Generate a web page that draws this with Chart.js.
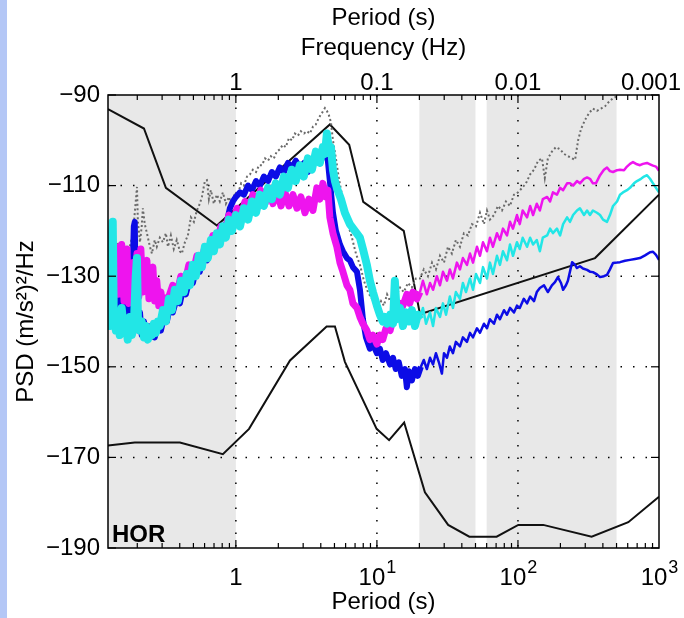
<!DOCTYPE html>
<html>
<head>
<meta charset="utf-8">
<script src="https://cdn.jsdelivr.net/npm/chart.js@4.4.1/dist/chart.umd.min.js"></script>
<style>
  html, body { margin: 0; padding: 0; background: #fff; }
  #wrap { position: relative; width: 684px; height: 618px; }
  #stripe { position: absolute; left: 0; top: 0; width: 7px; height: 618px; background: #b4c7f6; }
  canvas { position: absolute; left: 0; top: 0; }
</style>
</head>
<body>
<div id="wrap"><canvas id="psdChart" width="684" height="618"></canvas><div id="stripe"></div></div>
<script>
// Axis ticks and shaded period bands
const periodTicks = [1, 10, 100, 1000];
const frequencyLabels = ["1", "0.1", "0.01", "0.001"];
const gridPeriods = [1, 10, 100];
const gridLevels = [-110, -130, -150, -170];
const shadedBands = [[0.124, 1], [20, 50], [60, 500]];

// Noise models: [period (s), PSD (dB)]
const highNoiseModel = [[0.124,-93.1],[0.223,-97.4],[0.319,-110.5],[0.733,-118.8],[4.64,-96.5],[6.36,-101],[8.0,-113.6],[15.5,-120],[20.2,-138.4],[352,-126.0],[1000,-112]];
const lowNoiseModel = [[0.124,-167.4],[0.192,-166.7],[0.401,-166.7],[0.809,-169.3],[1.24,-163.7],[2.42,-148.6],[4.4,-141.1],[5.04,-141.1],[5.93,-148.9],[9.95,-163.7],[12.2,-166.2],[15.6,-162.3],[21.9,-177.7],[32.0,-184.9],[45.2,-187.5],[70.6,-187.5],[100.5,-184.9],[151,-184.9],[333,-187.5],[606,-184.3],[1000,-178.7]];

// Station spectra: [period (s), PSD (dB)]
const cyanPsd = [
  [0.124,-136],[0.126,-128],[0.128,-141],[0.130,-124],[0.134,-118],[0.136,-137],[0.141,-142],[0.146,-139],[0.150,-143],[0.155,-137],
  [0.161,-142],[0.166,-140],[0.171,-144],[0.177,-139],[0.183,-143],[0.189,-141],[0.195,-130],[0.199,-126],[0.202,-139],[0.209,-142],
  [0.215,-140],[0.223,-143.5],[0.230,-141],[0.238,-144],[0.246,-141.5],[0.254,-143],[0.262,-140.5],[0.271,-142.5],[0.280,-140],[0.289,-141],
  [0.304,-137.5],[0.319,-140],[0.335,-135],[0.352,-137.5],[0.369,-133],[0.388,-135.5],[0.407,-131],[0.428,-133.5],[0.449,-129.5],[0.472,-132],
  [0.495,-127.5],[0.520,-130],[0.546,-125.5],[0.574,-128],[0.603,-123.5],[0.633,-126],[0.665,-122],[0.698,-124.5],[0.733,-120.5],[0.770,-123],
  [0.809,-119],[0.849,-121.5],[0.892,-117.5],[0.937,-120],[1.00,-116.5],[1.07,-119],[1.14,-115],[1.22,-117.5],[1.30,-113.5],[1.39,-116],
  [1.48,-112],[1.58,-114.5],[1.69,-110.5],[1.80,-113],[1.92,-109.5],[2.05,-112],[2.19,-108],[2.34,-110.5],[2.49,-106.5],[2.66,-109],
  [2.84,-105.5],[3.03,-108],[3.24,-104],[3.46,-106.5],[3.69,-102.5],[3.94,-105],[4.14,-101.5],[4.28,-103],[4.42,-98.5],[4.57,-102],
  [4.72,-101.5],[4.88,-106.5],[5.04,-109],[5.20,-110.5],[5.56,-113],[5.93,-116],[6.43,-118.5],[6.98,-120],[7.58,-121.5],[7.96,-124],
  [8.49,-127.5],[8.92,-131],[9.37,-133.5],[10.0,-136.5],[10.5,-138.5],[11.0,-140],[11.4,-139],[11.8,-140.5],[12.4,-138.5],[13.0,-140.5],
  [13.4,-131],[13.9,-139.5],[14.6,-137],[15.3,-141],[16.1,-138],[16.9,-140],[17.7,-137.5],[18.6,-141],[19.5,-138.5],[20.2,-139.5],
  [21.2,-137],[22.3,-140.5],[23.8,-138],[25.0,-141],[26.2,-137],[28.0,-139],[29.4,-136],[30.9,-138.5],[32.9,-134.5],[34.6,-137],
  [36.3,-133.5],[38.8,-135],[40.7,-131.5],[42.8,-133.5],[45.7,-130.5],[48.0,-133],[50.4,-129.5],[53.8,-131.5],[56.5,-128],[60.3,-130.5],
  [63.3,-127],[66.5,-129.5],[71.0,-125.5],[74.5,-127.5],[78.3,-124.5],[83.6,-126.5],[87.8,-123],[92.2,-125.5],[98.4,-122.5],[103,-124],
  [108,-121.5],[116,-123.5],[122,-121.5],[128,-123],[136,-122],[143,-124.5],[150,-121.5],[161,-121],[169,-119.5],[177,-120.5],
  [189,-119.5],[199,-121],[209,-118.5],[223,-117],[234,-118],[246,-116.5],[262,-115.5],[275,-115],[294,-116.5],[309,-115.5],
  [324,-116.5],[340,-115.5],[363,-116],[382,-116.5],[401,-117.5],[428,-118],[449,-116.5],[472,-114.5],[504,-113.5],[529,-112],
  [555,-111.5],[593,-111],[623,-110.5],[665,-109.5],[698,-109],[745,-108.5],[783,-108],[822,-107.7],[864,-108.5],[907,-109.5],
  [952,-110.5],[1000,-111.5]
];
const magentaPsd = [
  [0.124,-131],[0.128,-135],[0.132,-124.5],[0.136,-135.5],[0.141,-123.5],[0.146,-134],[0.150,-127],[0.155,-123],[0.161,-135.5],[0.166,-128.5],
  [0.169,-124],[0.174,-136],[0.180,-129],[0.186,-127],[0.192,-135.5],[0.199,-125],[0.205,-134.5],[0.212,-124],[0.219,-133.5],[0.226,-128.5],
  [0.234,-126.5],[0.242,-135],[0.249,-130],[0.258,-128],[0.266,-135.5],[0.275,-131],[0.284,-136.5],[0.294,-133.5],[0.304,-136.5],[0.314,-135],
  [0.335,-134.5],[0.357,-132],[0.382,-134],[0.407,-130],[0.435,-131.5],[0.464,-127.5],[0.496,-129.5],[0.529,-125.5],[0.565,-127.5],[0.603,-123.5],
  [0.644,-125],[0.687,-121],[0.733,-123],[0.783,-119],[0.836,-120.5],[0.892,-116.5],[0.952,-118.5],[1.02,-115],[1.09,-117],[1.16,-113.5],
  [1.24,-115.5],[1.32,-112],[1.41,-114.5],[1.50,-111],[1.61,-114],[1.71,-110.5],[1.83,-114],[1.95,-111],[2.09,-114.5],[2.23,-111.5],
  [2.38,-114.5],[2.54,-112],[2.71,-115],[2.89,-112.5],[3.09,-116],[3.29,-113],[3.52,-115.5],[3.75,-110.5],[3.94,-113],[4.14,-109.5],
  [4.35,-112.5],[4.49,-111],[4.64,-117],[4.88,-120.5],[5.20,-123.5],[5.47,-127],[5.74,-129],[6.13,-132],[6.43,-133],[6.76,-136],
  [7.22,-137],[7.58,-139],[7.96,-140.5],[8.49,-142],[8.92,-144],[9.37,-143],[10.0,-145],[10.5,-143],[11.0,-144],[11.6,-141.5],
  [12.4,-142],[13.0,-139.5],[13.9,-138.5],[14.6,-136],[15.3,-136.5],[16.3,-134],[17.1,-136],[18.0,-133.5],[19.2,-135],[20.2,-133.5],
  [21.2,-131],[22.6,-134],[23.8,-131.5],[25.0,-133],[26.6,-130],[28.0,-132],[29.4,-129],[31.4,-131],[32.9,-128.5],[34.6,-130.5],
  [36.9,-127],[38.8,-128.5],[40.7,-126],[43.5,-127.5],[45.7,-125],[48.0,-127],[51.2,-123.5],[53.8,-125.5],[56.5,-122.5],[60.3,-124.5],
  [63.3,-121.5],[66.5,-123.5],[71.0,-120.5],[74.5,-122],[78.3,-119.5],[83.6,-121],[87.8,-118],[92.2,-119.5],[98.4,-116.5],[103,-118.5],
  [108,-115.5],[116,-117],[122,-114.5],[128,-116.5],[136,-114],[143,-115.5],[150,-113],[161,-112.5],[169,-113.5],[177,-111.5],
  [189,-112],[199,-110.5],[209,-111],[223,-109.5],[234,-109.5],[246,-110],[262,-109],[275,-109.5],[294,-108.5],[309,-108.2],
  [324,-108.5],[340,-109.5],[357,-109.5],[382,-107.7],[407,-106.5],[428,-106],[449,-106.8],[472,-107],[504,-106.6],[529,-106.5],
  [565,-106.6],[593,-105.8],[623,-105.2],[654,-104.8],[698,-105.3],[733,-105.5],[770,-105.2],[822,-105],[864,-105.3],[907,-105.6],
  [952,-105.8],[1000,-106.7]
];
const bluePsd = [
  [0.124,-133],[0.128,-140],[0.132,-129],[0.136,-141],[0.141,-136],[0.146,-142],[0.150,-132],[0.155,-139.5],[0.161,-133],[0.166,-142],
  [0.171,-137],[0.177,-141],[0.183,-136],[0.189,-119],[0.192,-118],[0.195,-137],[0.202,-142],[0.209,-138],[0.215,-143],[0.223,-140],
  [0.230,-143],[0.238,-141],[0.246,-143.5],[0.254,-141.5],[0.266,-143.5],[0.280,-140.5],[0.294,-142],[0.309,-139],[0.324,-140],[0.340,-137],
  [0.357,-138],[0.376,-135.5],[0.401,-136],[0.421,-133],[0.442,-134],[0.472,-130.5],[0.496,-131.5],[0.520,-128.5],[0.555,-129],[0.593,-126],
  [0.623,-126.5],[0.654,-124],[0.687,-124.5],[0.733,-121.5],[0.770,-122],[0.822,-119.5],[0.863,-118],[0.907,-115],[0.952,-113.5],[1.00,-112.5],
  [1.07,-111.5],[1.14,-112],[1.22,-110],[1.30,-111],[1.39,-109],[1.48,-110],[1.58,-108],[1.69,-109],[1.80,-107],[1.92,-108],
  [2.05,-106],[2.19,-107],[2.34,-105],[2.50,-106],[2.66,-104.5],[2.84,-106],[3.04,-105],[3.24,-107],[3.46,-105.5],[3.69,-104],
  [3.94,-103.5],[4.14,-102.8],[4.35,-103.5],[4.49,-104.5],[4.64,-109],[4.88,-116],[5.12,-120],[5.47,-123],[5.74,-124.5],[6.13,-126],
  [6.43,-126.5],[6.76,-128],[7.22,-129],[7.58,-133],[7.96,-139.5],[8.36,-143.5],[8.92,-146],[9.37,-145],[10.0,-147],[10.5,-146],
  [11.0,-148.5],[11.6,-147],[12.4,-149.5],[13.0,-148],[13.6,-150.5],[14.3,-149],[15.0,-152],[15.8,-150.5],[16.3,-154.5],[16.9,-151],
  [17.7,-153],[18.6,-150.5],[19.5,-152],[20.5,-150],[21.5,-148.5],[22.6,-150.5],[23.8,-148],[25.0,-149.5],[26.2,-147],[27.5,-149],
  [28.9,-151.5],[29.9,-147],[31.4,-148],[32.9,-145.5],[34.6,-147],[36.3,-144.5],[38.8,-145.5],[40.7,-143.5],[43.5,-144.5],[45.7,-142.5],
  [48.0,-143.5],[51.2,-141.5],[53.8,-142.5],[57.4,-140.5],[60.3,-141.5],[63.3,-139.5],[67.6,-140.5],[71.0,-138.5],[74.5,-139.5],[79.6,-137.5],
  [83.6,-138.5],[87.8,-137],[93.7,-138],[98.4,-136.5],[103,-137],[110,-135],[116,-136],[122,-134.5],[130,-135.5],[136,-133.5],
  [143,-132.6],[153,-132],[163,-133.5],[174,-132],[183,-131.3],[192,-130.2],[202,-131.5],[209,-133],[219,-132],[226,-131],
  [242,-126.9],[254,-127.5],[262,-128.2],[275,-127.8],[289,-128.3],[309,-128.6],[324,-129],[340,-129.1],[363,-129.6],[382,-130.2],
  [407,-130],[428,-129.7],[449,-128.5],[472,-127.1],[504,-127],[529,-126.9],[574,-126.6],[623,-126.4],[676,-126.2],[733,-126],
  [796,-125.4],[864,-124.7],[907,-124.6],[952,-125.3],[1000,-126.4]
];
const grayPsd = [
  [0.124,-121.6],[0.130,-122.5],[0.136,-123],[0.143,-122.5],[0.150,-123.5],[0.158,-124.5],[0.166,-124],[0.174,-124.5],[0.180,-122.5],[0.186,-121],
  [0.192,-116],[0.199,-110.3],[0.202,-118],[0.209,-122.5],[0.215,-119],[0.219,-115],[0.226,-118.5],[0.234,-120.5],[0.246,-123.5],[0.254,-125],
  [0.266,-122],[0.275,-123.5],[0.289,-121.5],[0.304,-122.5],[0.319,-120.5],[0.330,-123.5],[0.346,-121],[0.363,-124],[0.381,-122],[0.401,-124.5],
  [0.414,-125],[0.435,-122.5],[0.457,-121],[0.480,-117],[0.504,-118],[0.529,-115.5],[0.555,-114],[0.574,-112.5],[0.603,-109],[0.623,-108.8],
  [0.644,-113],[0.665,-111],[0.698,-114],[0.733,-112],[0.770,-113.5],[0.809,-111.5],[0.850,-114],[0.892,-112.5],[0.937,-114.5],[0.984,-111.5],
  [1.03,-112],[1.09,-109.5],[1.14,-110],[1.20,-108],[1.26,-107.5],[1.32,-106.5],[1.39,-107],[1.46,-105.5],[1.53,-105.5],[1.61,-104],
  [1.69,-104.5],[1.77,-103.5],[1.86,-104],[1.95,-102.5],[2.05,-102],[2.15,-101],[2.26,-101.5],[2.38,-99.5],[2.50,-100],[2.62,-98.5],
  [2.75,-99],[2.89,-98],[3.04,-98.5],[3.19,-98],[3.35,-98.5],[3.52,-97],[3.69,-96.5],[3.88,-95],[4.07,-94],[4.28,-92.9],
  [4.42,-93.5],[4.57,-94.5],[4.72,-96],[4.88,-100],[5.12,-104],[5.38,-108.5],[5.65,-112],[5.93,-115.5],[6.23,-118.5],[6.65,-121.5],
  [7.10,-125],[7.58,-127.5],[8.09,-131],[8.64,-133.5],[9.22,-135],[9.68,-136],[10.2,-137],[10.7,-135.5],[11.2,-136.5],[11.8,-134],
  [12.4,-135.5],[13.0,-133.5],[13.6,-134.5],[14.6,-132.5],[15.5,-133.5],[16.6,-131.5],[17.7,-132.5],[18.9,-130.5],[20.2,-130.5],[21.5,-128.5],
  [23.0,-130],[24.6,-127],[26.2,-128.5],[28.0,-125.5],[29.9,-127],[31.9,-123.5],[34.0,-125],[36.3,-122],[38.8,-123.5],[41.4,-120.5],
  [44.2,-121],[47.2,-118.5],[50.4,-119],[53.8,-116],[57.4,-118.5],[60.3,-115.5],[63.3,-117.5],[67.6,-116.5],[72.1,-114.5],[77.0,-115.5],
  [82.2,-113.5],[87.8,-114.5],[93.7,-112],[100,-111.5],[107,-110.5],[114,-109.5],[122,-107.5],[130,-106.5],[139,-104.5],[148,-104],
  [155,-108.3],[163,-104],[174,-102.5],[186,-101.5],[199,-102],[212,-103],[226,-103.5],[242,-104],[254,-104.3],[267,-100],
  [280,-97.5],[299,-95.5],[319,-94],[340,-93],[363,-93.5],[388,-93],[414,-92.5],[442,-91.5],[472,-90.7],[504,-90.3]
];

const FONT = "'Liberation Sans', Arial, Helvetica, sans-serif";

function toXY(pairs) {
    return pairs.map(([p, v]) => ({ x: p, y: v }));
}

// Thick band where the spectra are noisy, thin line at long periods
function spectrum(label, pairs, color, wide, thin) {
    return {
        label: label,
        data: toXY(pairs),
        borderColor: color,
        borderWidth: thin,
        borderJoinStyle: "round",
        segment: { borderWidth: ctx => (ctx.p0.parsed.x < 20 ? wide : thin) }
    };
}

function strokeLine(ctx, x0, y0, x1, y1) {
    ctx.beginPath();
    ctx.moveTo(x0, y0);
    ctx.lineTo(x1, y1);
    ctx.stroke();
}

const psdFrame = {
    id: "psdFrame",
    beforeDatasetsDraw(chart) {
        const { ctx, chartArea: a, scales: { x, y } } = chart;
        ctx.save();
        ctx.fillStyle = "#e8e8e8";
        shadedBands.forEach(([p0, p1]) => {
            const x0 = x.getPixelForValue(p0), x1 = x.getPixelForValue(p1);
            ctx.fillRect(x0, a.top, x1 - x0, a.bottom - a.top);
        });
        ctx.strokeStyle = "#000";
        ctx.lineWidth = 1.5;
        ctx.setLineDash([1.5, 11]);
        gridPeriods.forEach(p => {
            const px = x.getPixelForValue(p);
            strokeLine(ctx, px, a.top, px, a.bottom);
        });
        gridLevels.forEach(v => {
            const py = y.getPixelForValue(v);
            strokeLine(ctx, a.left, py, a.right, py);
        });
        ctx.restore();
    },
    afterDatasetsDraw(chart) {
        const { ctx, chartArea: a, scales: { x, y } } = chart;
        ctx.save();
        ctx.strokeStyle = "#000";
        ctx.lineWidth = 1.5;
        ctx.strokeRect(a.left, a.top, a.right - a.left, a.bottom - a.top);

        // inward tick marks
        ctx.lineWidth = 1.2;
        for (let e = -1; e <= 2; e++) {
            for (let k = 1; k <= 9; k++) {
                const v = k * Math.pow(10, e);
                if (v < x.min || v > x.max) continue;
                const px = x.getPixelForValue(v);
                const len = k === 1 ? 8 : 5;
                strokeLine(ctx, px, a.bottom, px, a.bottom - len);
                strokeLine(ctx, px, a.top, px, a.top + len);
            }
        }
        y.ticks.forEach(t => {
            const py = y.getPixelForValue(t.value);
            strokeLine(ctx, a.left, py, a.left + 8, py);
            strokeLine(ctx, a.right, py, a.right - 8, py);
        });

        // period labels (bottom) and frequency labels (top)
        ctx.fillStyle = "#000";
        ctx.textBaseline = "alphabetic";
        periodTicks.forEach((p, i) => {
            const px = x.getPixelForValue(p);
            const e = Math.round(Math.log10(p));
            if (e === 0) {
                ctx.font = `24px ${FONT}`;
                ctx.textAlign = "center";
                ctx.fillText("1", px, 585);
            } else {
                ctx.font = `24px ${FONT}`;
                const wb = ctx.measureText("10").width;
                ctx.font = `18px ${FONT}`;
                const ws = ctx.measureText(String(e)).width;
                const start = px - (wb + ws) / 2;
                ctx.textAlign = "left";
                ctx.font = `24px ${FONT}`;
                ctx.fillText("10", start, 585);
                ctx.font = `18px ${FONT}`;
                ctx.fillText(String(e), start + wb + 1, 573);
            }
            // keep the last frequency label inside the canvas
            ctx.font = `24px ${FONT}`;
            ctx.textAlign = "center";
            const w = ctx.measureText(frequencyLabels[i]).width;
            const cx = Math.min(px, chart.width - 3 - w / 2);
            ctx.fillText(frequencyLabels[i], cx, 90);
        });

        ctx.font = `bold 24px ${FONT}`;
        ctx.textAlign = "left";
        ctx.fillText("HOR", a.left + 4, a.bottom - 6);
        ctx.restore();
    }
};

const titleFont = { family: FONT, size: 24 };

new Chart(document.getElementById("psdChart").getContext("2d"), {
    type: "line",
    data: {
        datasets: [
            spectrum("cyan", cyanPsd, "#22e6e6", 8, 2.5),
            spectrum("magenta", magentaPsd, "#ee14ee", 7, 2.5),
            spectrum("blue", bluePsd, "#0c0ce6", 6, 2.5),
            { label: "gray", data: toXY(grayPsd), borderColor: "#6a6a6a", borderWidth: 2, borderDash: [2, 2.5] },
            { label: "high model", data: toXY(highNoiseModel), borderColor: "#111", borderWidth: 2 },
            { label: "low model", data: toXY(lowNoiseModel), borderColor: "#111", borderWidth: 2 }
        ]
    },
    options: {
        responsive: false,
        animation: false,
        devicePixelRatio: 1,
        layout: { padding: { left: 0, right: 25, top: 0, bottom: 0 } },
        plugins: { legend: { display: false }, tooltip: { enabled: false } },
        elements: { point: { radius: 0 }, line: { tension: 0 } },
        scales: {
            x: {
                type: "logarithmic",
                position: "bottom",
                min: 0.124,
                max: 1000,
                ticks: { display: false },
                grid: { display: false, drawTicks: false },
                border: { display: false },
                title: { display: true, text: "Period (s)", color: "#000", font: titleFont, padding: { top: 0, bottom: 1 } },
                afterFit: s => { s.height = 70; }
            },
            xTop: {
                type: "logarithmic",
                position: "top",
                min: 0.124,
                max: 1000,
                ticks: { display: false },
                grid: { display: false, drawTicks: false },
                border: { display: false },
                title: {
                    display: true,
                    text: ["Period (s)", "Frequency (Hz)"],
                    color: "#000",
                    font: { family: FONT, size: 24, lineHeight: 1.25 },
                    padding: { top: 3, bottom: 0 }
                },
                afterFit: s => { s.height = 95; }
            },
            y: {
                min: -190,
                max: -90,
                ticks: {
                    stepSize: 20,
                    color: "#000",
                    padding: 8,
                    font: { family: FONT, size: 24 },
                    callback: v => (v < 0 ? "\u2212" + Math.abs(v) : String(v))
                },
                grid: { display: false, drawTicks: false },
                border: { display: false },
                title: { display: true, text: "PSD (m/s\u00b2)\u00b2/Hz", color: "#000", font: titleFont, padding: { top: 12, bottom: 0 } },
                afterFit: s => { s.width = 108; }
            }
        }
    },
    plugins: [psdFrame]
});
</script>
</body>
</html>
